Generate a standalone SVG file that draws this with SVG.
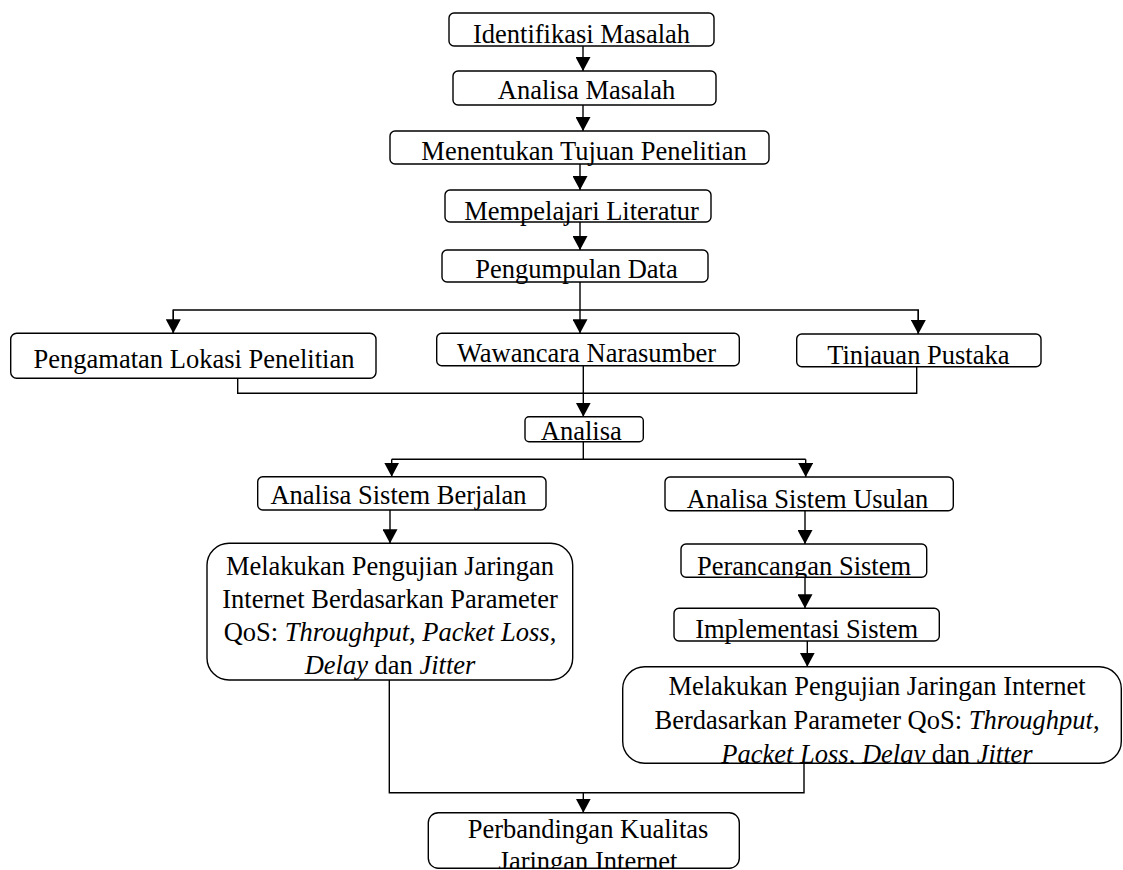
<svg xmlns="http://www.w3.org/2000/svg" width="1123" height="870" viewBox="0 0 1123 870">
<style>
.b{fill:#fff;stroke:#000;stroke-width:1.4}
.t{font-family:"Liberation Serif","Times New Roman",serif;font-size:26.5px;fill:#000;text-anchor:middle}
.i{font-style:italic}
.c{fill:none;stroke:#000;stroke-width:1.4}
</style>
<defs>
<marker id="ah" viewBox="0 0 14 15" refX="14" refY="7.5" markerWidth="14" markerHeight="15" markerUnits="userSpaceOnUse" orient="auto">
<path d="M0,0 L14,7.5 L0,15 z" fill="#000"/>
</marker>
<clipPath id="c8"><rect x="796.7" y="334" width="244.3" height="32.7"/></clipPath>
<clipPath id="c12"><rect x="665" y="477" width="288.3" height="33.7"/></clipPath>
<clipPath id="c13"><rect x="681" y="544" width="245.7" height="33.3"/></clipPath>
<clipPath id="c15"><rect x="622.7" y="666.7" width="498.6" height="96.6"/></clipPath>
<clipPath id="c16"><rect x="428.3" y="812.7" width="311" height="55.6"/></clipPath>
</defs>
<rect width="1123" height="870" fill="#fff"/>

<g id="connectors">
<path class="c" d="M583,46 V71" marker-end="url(#ah)"/>
<path class="c" d="M583,105 V131" marker-end="url(#ah)"/>
<path class="c" d="M580,164 V190" marker-end="url(#ah)"/>
<path class="c" d="M580,222 V250" marker-end="url(#ah)"/>
<path class="c" d="M580,282 V333.3" marker-end="url(#ah)"/>
<path class="c" d="M173.3,333.3 V310 H918.3 V334"/>
<path class="c" d="M173.3,310 V333.3" marker-end="url(#ah)"/>
<path class="c" d="M918.3,310 V334" marker-end="url(#ah)"/>
<path class="c" d="M237.7,378.3 V393.3 H916.7 V366.7"/>
<path class="c" d="M583.3,365.7 V416.7" marker-end="url(#ah)"/>
<path class="c" d="M583.3,441.7 V459.3 M391.7,459.3 H805.7"/>
<path class="c" d="M391.7,459.3 V476.7" marker-end="url(#ah)"/>
<path class="c" d="M805.7,459.3 V477" marker-end="url(#ah)"/>
<path class="c" d="M390,510 V543.3" marker-end="url(#ah)"/>
<path class="c" d="M805,510.7 V544" marker-end="url(#ah)"/>
<path class="c" d="M805,577.3 V608.3" marker-end="url(#ah)"/>
<path class="c" d="M807.3,641 V666.7" marker-end="url(#ah)"/>
<path class="c" d="M389.3,680 V792.7 H804 V763.3"/>
<path class="c" d="M583.3,792.7 V812.7" marker-end="url(#ah)"/>
</g>

<g id="n1"><rect class="b" x="449" y="13" width="265" height="33" rx="5"/><text class="t" x="581.5" y="43">Identifikasi Masalah</text></g>
<g id="n2"><rect class="b" x="453" y="71" width="263" height="34" rx="5"/><text class="t" x="586.5" y="99">Analisa Masalah</text></g>
<g id="n3"><rect class="b" x="390" y="131" width="379" height="33" rx="5"/><text class="t" x="584" y="160">Menentukan Tujuan Penelitian</text></g>
<g id="n4"><rect class="b" x="445" y="190" width="266" height="32" rx="5"/><text class="t" x="581.5" y="219.5">Mempelajari Literatur</text></g>
<g id="n5"><rect class="b" x="442" y="250" width="266" height="32" rx="5"/><text class="t" x="576.5" y="278">Pengumpulan Data</text></g>
<g id="n6"><rect class="b" x="10.7" y="333.3" width="365.3" height="45" rx="6"/><text class="t" x="194" y="368">Pengamatan Lokasi Penelitian</text></g>
<g id="n7"><rect class="b" x="436.7" y="333.3" width="302.6" height="32.4" rx="5"/><text class="t" x="586.5" y="361.5">Wawancara Narasumber</text></g>
<g id="n8"><rect class="b" x="796.7" y="334" width="244.3" height="32.7" rx="5"/><text class="t" x="918.3" y="363.5" clip-path="url(#c8)">Tinjauan Pustaka</text></g>
<g id="n9"><rect class="b" x="525" y="416.7" width="118.3" height="25" rx="4"/><text class="t" x="581.3" y="439.5">Analisa</text></g>
<g id="n10"><rect class="b" x="257.7" y="476.7" width="288.3" height="33.3" rx="5"/><text class="t" x="398.5" y="504">Analisa Sistem Berjalan</text></g>
<g id="n11"><rect class="b" x="207" y="543.3" width="365.7" height="136.7" rx="22"/>
<text class="t" x="390" y="575">Melakukan Pengujian Jaringan</text>
<text class="t" x="390" y="608">Internet Berdasarkan Parameter</text>
<text class="t" x="390" y="641">QoS: <tspan class="i">Throughput</tspan>, <tspan class="i">Packet Loss</tspan>,</text>
<text class="t" x="390" y="673.5"><tspan class="i">Delay</tspan> dan <tspan class="i">Jitter</tspan></text></g>
<g id="n12"><rect class="b" x="665" y="477" width="288.3" height="33.7" rx="5"/><text class="t" x="807.5" y="508" clip-path="url(#c12)">Analisa Sistem Usulan</text></g>
<g id="n13"><rect class="b" x="681" y="544" width="245.7" height="33.3" rx="5"/><text class="t" x="804" y="574.5" clip-path="url(#c13)">Perancangan Sistem</text></g>
<g id="n14"><rect class="b" x="674" y="608.3" width="265.3" height="32.7" rx="5"/><text class="t" x="806.7" y="637.7">Implementasi Sistem</text></g>
<g id="n15"><rect class="b" x="622.7" y="666.7" width="498.6" height="96.6" rx="22"/>
<g clip-path="url(#c15)">
<text class="t" x="877" y="695">Melakukan Pengujian Jaringan Internet</text>
<text class="t" x="877" y="729">Berdasarkan Parameter QoS: <tspan class="i">Throughput</tspan>,</text>
<text class="t" x="877" y="762.5"><tspan class="i">Packet Loss</tspan>, <tspan class="i">Delay</tspan> dan <tspan class="i">Jitter</tspan></text>
</g></g>
<g id="n16"><rect class="b" x="428.3" y="812.7" width="311" height="55.6" rx="10"/>
<g clip-path="url(#c16)">
<text class="t" x="588" y="837.5">Perbandingan Kualitas</text>
<text class="t" x="588" y="870">Jaringan Internet</text>
</g></g>
</svg>
